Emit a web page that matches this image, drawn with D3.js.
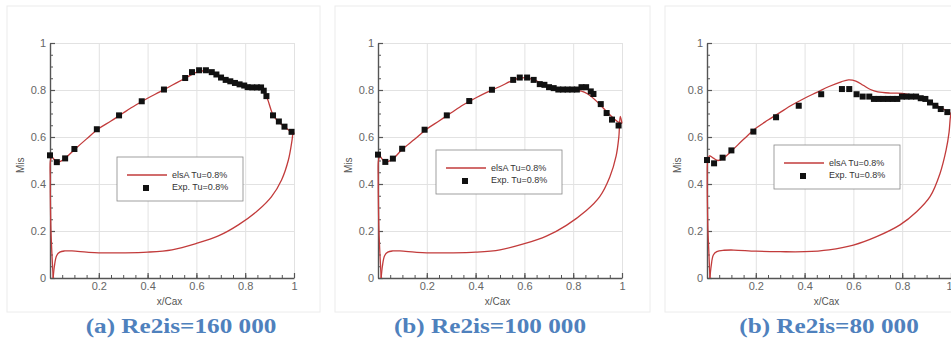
<!DOCTYPE html>
<html>
<head>
<meta charset="utf-8">
<script src="https://cdn.jsdelivr.net/npm/d3@7"></script>
<style>
  body { margin: 0; background: #fff; }
  .tick text { font-family: 'Liberation Sans', Arial, sans-serif; }
</style>
</head>
<body>
<svg id="chart" width="951" height="342"></svg>
<script>
// tick values and labels
const xTicks = [0.2, 0.4, 0.6, 0.8, 1];
const yTicks = [0, 0.2, 0.4, 0.6, 0.8, 1];
const minorTicks = d3.range(0, 1.0001, 0.05);
const captions = ['(a) Re2is=160 000', '(b) Re2is=100 000', '(b) Re2is=80 000'];
const legendLabels = ['elsA Tu=0.8%', 'Exp. Tu=0.8%'];

// experiment points [x/Cax, Mis]
const exp160 = [[0,0.522],[0.028,0.493],[0.062,0.509],[0.1,0.549],[0.192,0.633],[0.283,0.692],[0.376,0.752],[0.467,0.802],[0.554,0.851],[0.582,0.876],[0.611,0.884],[0.639,0.884],[0.663,0.876],[0.682,0.866],[0.701,0.853],[0.72,0.843],[0.739,0.837],[0.758,0.83],[0.777,0.824],[0.796,0.819],[0.81,0.812],[0.829,0.811],[0.848,0.811],[0.865,0.811],[0.876,0.797],[0.887,0.774],[0.914,0.692],[0.938,0.666],[0.961,0.644],[0.99,0.622]];
const exp100 = [[0,0.525],[0.03,0.494],[0.061,0.508],[0.099,0.55],[0.191,0.631],[0.282,0.692],[0.374,0.753],[0.467,0.801],[0.554,0.843],[0.581,0.853],[0.611,0.853],[0.638,0.843],[0.663,0.825],[0.682,0.822],[0.701,0.812],[0.72,0.808],[0.739,0.802],[0.758,0.802],[0.777,0.802],[0.796,0.802],[0.815,0.802],[0.834,0.812],[0.853,0.812],[0.872,0.794],[0.883,0.783],[0.913,0.74],[0.937,0.702],[0.959,0.674],[0.986,0.649]];
const exp80 = [[0,0.502],[0.029,0.488],[0.064,0.512],[0.1,0.543],[0.19,0.623],[0.283,0.684],[0.376,0.733],[0.468,0.782],[0.553,0.804],[0.583,0.804],[0.613,0.782],[0.638,0.772],[0.665,0.772],[0.684,0.762],[0.703,0.762],[0.722,0.762],[0.742,0.762],[0.761,0.762],[0.78,0.762],[0.799,0.772],[0.818,0.772],[0.837,0.772],[0.857,0.772],[0.876,0.765],[0.895,0.762],[0.914,0.747],[0.936,0.733],[0.958,0.719],[0.985,0.706]];

// elsA suction side (LE -> TE)
const suc160 = [[0.013,0],[0.008,0.1],[0.004,0.2],[0.002,0.3],[0.001,0.42],[0.002,0.5],[0.008,0.515],[0.018,0.503],[0.03,0.493],[0.045,0.497],[0.065,0.512],[0.1,0.546],[0.15,0.592],[0.2,0.636],[0.25,0.668],[0.3,0.702],[0.35,0.735],[0.4,0.765],[0.45,0.792],[0.5,0.82],[0.55,0.848],[0.6,0.875],[0.63,0.882],[0.66,0.876],[0.7,0.856],[0.75,0.834],[0.8,0.818],[0.84,0.81],[0.87,0.802],[0.89,0.765],[0.915,0.692],[0.94,0.662],[0.97,0.636],[1.0,0.612]];
const suc100 = [[0.013,0],[0.008,0.1],[0.004,0.2],[0.002,0.3],[0.001,0.42],[0.002,0.5],[0.008,0.518],[0.018,0.505],[0.03,0.494],[0.045,0.497],[0.065,0.51],[0.1,0.548],[0.15,0.59],[0.2,0.634],[0.25,0.668],[0.3,0.703],[0.35,0.737],[0.4,0.766],[0.45,0.792],[0.5,0.815],[0.55,0.84],[0.58,0.85],[0.61,0.852],[0.64,0.843],[0.67,0.828],[0.7,0.815],[0.75,0.805],[0.8,0.8],[0.834,0.795],[0.86,0.783],[0.9,0.748],[0.94,0.705],[0.97,0.675],[0.99,0.66],[1.0,0.658]];
const suc80 = [[0.012,0],[0.008,0.1],[0.004,0.2],[0.002,0.3],[0.001,0.42],[0.003,0.5],[0.01,0.52],[0.026,0.51],[0.045,0.5],[0.065,0.508],[0.1,0.54],[0.15,0.59],[0.2,0.637],[0.25,0.672],[0.3,0.705],[0.35,0.737],[0.4,0.765],[0.45,0.79],[0.5,0.815],[0.55,0.835],[0.58,0.843],[0.61,0.838],[0.64,0.82],[0.67,0.802],[0.7,0.792],[0.75,0.787],[0.8,0.786],[0.85,0.776],[0.9,0.757],[0.95,0.73],[0.98,0.712],[1.0,0.70]];

// elsA pressure side (LE -> TE)
const pres160 = [[0.013,0],[0.018,0.05],[0.027,0.095],[0.04,0.11],[0.06,0.115],[0.09,0.115],[0.15,0.11],[0.2,0.107],[0.3,0.107],[0.4,0.11],[0.5,0.12],[0.6,0.147],[0.69,0.179],[0.772,0.226],[0.854,0.289],[0.908,0.346],[0.949,0.417],[0.977,0.502],[0.992,0.587],[0.997,0.625],[1.0,0.612]];
const pres100 = [[0.013,0],[0.018,0.05],[0.027,0.095],[0.04,0.11],[0.06,0.115],[0.09,0.115],[0.15,0.11],[0.2,0.107],[0.3,0.107],[0.4,0.11],[0.5,0.12],[0.6,0.146],[0.69,0.178],[0.772,0.224],[0.854,0.287],[0.908,0.345],[0.95,0.43],[0.976,0.52],[0.987,0.6],[0.993,0.688],[1.0,0.658]];
const pres80 = [[0.012,0],[0.017,0.05],[0.026,0.098],[0.04,0.112],[0.07,0.118],[0.11,0.119],[0.2,0.114],[0.3,0.112],[0.4,0.112],[0.5,0.12],[0.6,0.14],[0.695,0.176],[0.791,0.226],[0.859,0.282],[0.914,0.346],[0.955,0.445],[0.98,0.545],[0.992,0.62],[0.997,0.68],[1.0,0.70]];

const panels = [
  { left: 50,  frame: [7, 6, 313, 306],   legend: [67, 157], capX: 181, exp: exp160, suc: suc160, pres: pres160 },
  { left: 378, frame: [335, 6, 315, 306], legend: [58, 150], capX: 490, exp: exp100, suc: suc100, pres: pres100 },
  { left: 707, frame: [665, 6, 300, 306], legend: [67, 145], capX: 829, exp: exp80,  suc: suc80,  pres: pres80 }
];

const plotW = 244, plotTop = 43, plotBottom = 278;
const lineColor = '#c23b3b';
const svg = d3.select('#chart');

panels.forEach((p, i) => {
  const g = svg.append('g');

  // faint frame around each figure
  g.append('rect')
    .attr('x', p.frame[0]).attr('y', p.frame[1])
    .attr('width', p.frame[2]).attr('height', p.frame[3])
    .attr('fill', 'none').attr('stroke', '#ececec');

  const x = d3.scaleLinear().domain([0, 1]).range([p.left, p.left + plotW]);
  const y = d3.scaleLinear().domain([0, 1]).range([plotBottom, plotTop]);

  // grid
  g.append('g').attr('transform', `translate(0,${plotBottom})`)
    .call(d3.axisBottom(x).tickValues(xTicks).tickSize(-(plotBottom - plotTop)).tickFormat(''))
    .call(a => a.select('.domain').remove())
    .call(a => a.selectAll('line').attr('stroke', '#e2e2e2'));
  g.append('g').attr('transform', `translate(${p.left},0)`)
    .call(d3.axisLeft(y).tickValues(yTicks.slice(1)).tickSize(-plotW).tickFormat(''))
    .call(a => a.select('.domain').remove())
    .call(a => a.selectAll('line').attr('stroke', '#e2e2e2'));

  // minor ticks
  g.append('g').attr('transform', `translate(0,${plotBottom})`)
    .call(d3.axisBottom(x).tickValues(minorTicks).tickSize(-3).tickFormat(''))
    .call(a => a.select('.domain').remove())
    .call(a => a.selectAll('line').attr('stroke', '#555'));
  g.append('g').attr('transform', `translate(${p.left},0)`)
    .call(d3.axisLeft(y).tickValues(minorTicks).tickSize(-3).tickFormat(''))
    .call(a => a.select('.domain').remove())
    .call(a => a.selectAll('line').attr('stroke', '#555'));

  // main axes, ticks pointing inward
  const xAxis = g.append('g').attr('transform', `translate(0,${plotBottom})`)
    .call(d3.axisBottom(x).tickValues(xTicks).tickSize(-5).tickPadding(4).tickSizeOuter(0).tickFormat(d3.format('')));
  const yAxis = g.append('g').attr('transform', `translate(${p.left},0)`)
    .call(d3.axisLeft(y).tickValues(yTicks).tickSize(-5).tickPadding(4).tickSizeOuter(0).tickFormat(d3.format('')));
  [xAxis, yAxis].forEach(a => {
    a.select('.domain').attr('stroke', '#555').attr('stroke-width', 1.4);
    a.selectAll('.tick line').attr('stroke', '#555').attr('stroke-width', 1.2);
    a.selectAll('.tick text').attr('fill', '#666').attr('font-size', 11);
  });
  // last panel runs into the page edge: keep its "1" label inside
  if (x(1) > 945) {
    xAxis.selectAll('.tick text').filter(d => d === 1).attr('text-anchor', 'end').attr('dx', 1);
  }

  // axis titles
  g.append('text')
    .attr('x', p.left + plotW * 0.49).attr('y', 305)
    .attr('text-anchor', 'middle')
    .attr('font-family', 'Liberation Sans, Arial, sans-serif')
    .attr('font-size', 10).attr('fill', '#555')
    .text('x/Cax');
  g.append('text')
    .attr('transform', `translate(${p.left - 26},${y(0.48)}) rotate(-90)`)
    .attr('text-anchor', 'middle')
    .attr('font-family', 'Liberation Sans, Arial, sans-serif')
    .attr('font-size', 10).attr('fill', '#555')
    .text('Mis');

  // elsA curves
  const line = d3.line()
    .curve(d3.curveCatmullRom.alpha(0.5))
    .x(d => x(d[0]))
    .y(d => y(d[1]));
  [p.suc, p.pres].forEach(side => {
    g.append('path')
      .attr('d', line(side))
      .attr('fill', 'none')
      .attr('stroke', lineColor)
      .attr('stroke-width', 1.3);
  });

  // experiment markers
  g.selectAll('rect.pt')
    .data(p.exp)
    .enter()
    .append('rect')
    .attr('class', 'pt')
    .attr('x', d => x(d[0]) - 3)
    .attr('y', d => y(d[1]) - 3)
    .attr('width', 6).attr('height', 6)
    .attr('fill', '#111');

  // legend
  const lx = p.left + p.legend[0], ly = p.legend[1];
  const leg = g.append('g').attr('transform', `translate(${lx},${ly})`);
  leg.append('rect')
    .attr('width', 126).attr('height', 44)
    .attr('fill', '#fff').attr('stroke', '#888').attr('stroke-width', 0.8);
  leg.append('line')
    .attr('x1', 10).attr('x2', 50).attr('y1', 18).attr('y2', 18)
    .attr('stroke', lineColor).attr('stroke-width', 1.3);
  leg.append('rect')
    .attr('x', 26).attr('y', 28).attr('width', 6).attr('height', 6)
    .attr('fill', '#111');
  legendLabels.forEach((t, k) => {
    leg.append('text')
      .attr('x', 55).attr('y', 21 + k * 12)
      .attr('font-family', 'Liberation Sans, Arial, sans-serif')
      .attr('font-size', 9).attr('fill', '#333')
      .text(t);
  });

  // caption
  svg.append('text')
    .attr('transform', `translate(${p.capX},333) scale(1.2,1)`)
    .attr('text-anchor', 'middle')
    .attr('font-family', 'Liberation Serif, Times New Roman, serif')
    .attr('font-weight', 'bold')
    .attr('font-size', 21)
    .attr('fill', '#4f81bd')
    .text(captions[i]);
});
</script>
</body>
</html>
